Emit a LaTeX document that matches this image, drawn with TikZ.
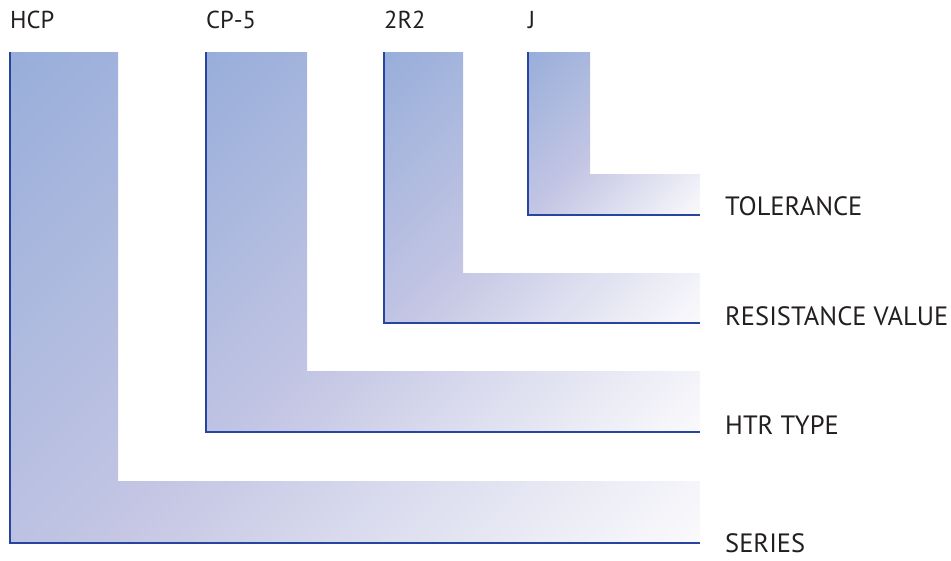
\documentclass[tikz,border=0pt]{standalone}
\usepackage{fontspec}
\setmainfont{PT Sans}
\definecolor{barblue}{RGB}{152,174,218}
\definecolor{barlilac}{RGB}{196,198,228}
\definecolor{barwhite}{RGB}{250,250,252}
\definecolor{edgeblue}{RGB}{38,68,160}
\definecolor{labelgray}{RGB}{35,31,32}
% corner to corner along the diagonal of the bounding box
\pgfdeclareverticalshading{lbar}{100bp}{color(0bp)=(barwhite); color(14.64bp)=(barwhite);
    color(50bp)=(barlilac); color(85.36bp)=(barblue); color(100bp)=(barblue)}
\begin{document}
\begin{tikzpicture}[x=1pt, y=-1pt,
    bar/.style={shading=lbar, shading angle=45},
    edge/.style={edgeblue, line width=1.4pt},
    code label/.style={anchor=base west, inner sep=0pt, text=labelgray, font=\fontsize{24.5}{28}\selectfont},
    field label/.style={anchor=base west, inner sep=0pt, text=labelgray, font=\fontsize{26.5}{30}\selectfont}]
    \useasboundingbox (0,0) rectangle (951,560);
    % one L per part of the code: left, inner, top of foot, bottom, top text, side text, text base
    \foreach \name/\xa/\xb/\yt/\yb/\code/\field/\fy in {
        series/10/118/481/543/HCP/SERIES/552,
        type/206/307/371/432/CP-5/HTR TYPE/434,
        value/384/463/273/323/2R2/RESISTANCE VALUE/325,
        tol/528/590/174/215/J/TOLERANCE/215}{
        \shade[bar] (\xa,52) -- (\xb,52) -- (\xb,\yt) -- (700,\yt) -- (700,\yb) -- (\xa,\yb) -- cycle;
        \draw[edge] (\xa,52) -- (\xa,\yb) -- (700,\yb);
        \node[code label] (\name code) at (\xa,28) {\code};
        \node[field label] (\name field) at (725,\fy) {\field};
    }
\end{tikzpicture}
\end{document}
